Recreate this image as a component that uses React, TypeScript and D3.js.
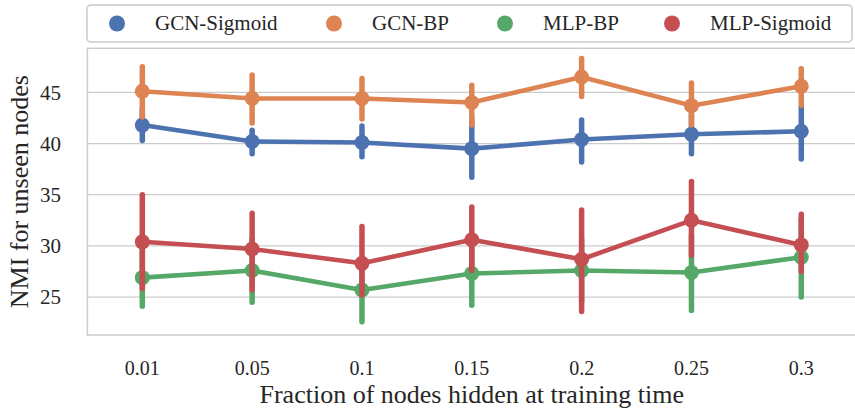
import React from "react";
import * as d3 from "d3";

const categories = ["0.01", "0.05", "0.1", "0.15", "0.2", "0.25", "0.3"];
const yTicks = [25, 30, 35, 40, 45];

const seriesNames = ["GCN-Sigmoid", "GCN-BP", "MLP-BP", "MLP-Sigmoid"];
const seriesColors = ["#4C72B0", "#DD8452", "#55A868", "#C44E52"];

const gcnSigmoidMean = [41.8, 40.2, 40.1, 39.5, 40.4, 40.9, 41.2];
const gcnSigmoidLo = [40.3, 39.0, 38.7, 36.7, 38.2, 39.0, 38.5];
const gcnSigmoidHi = [43.3, 41.3, 41.7, 42.3, 42.3, 42.8, 43.6];

const gcnBpMean = [45.1, 44.4, 44.4, 44.0, 46.5, 43.7, 45.6];
const gcnBpLo = [42.6, 42.0, 42.4, 41.8, 44.6, 41.8, 43.75];
const gcnBpHi = [47.5, 46.7, 46.35, 45.7, 48.3, 45.9, 47.3];

const mlpBpMean = [26.9, 27.6, 25.7, 27.3, 27.6, 27.4, 28.9];
const mlpBpLo = [24.1, 24.5, 22.6, 24.2, 24.6, 23.7, 25.0];
const mlpBpHi = [29.6, 30.7, 28.8, 30.3, 30.6, 31.0, 32.6];

const mlpSigmoidMean = [30.4, 29.7, 28.3, 30.6, 28.7, 32.5, 30.1];
const mlpSigmoidLo = [25.85, 25.7, 25.2, 27.6, 23.6, 29.1, 27.5];
const mlpSigmoidHi = [35.0, 33.2, 31.9, 33.8, 33.5, 36.3, 33.1];

const seriesMeans = [gcnSigmoidMean, gcnBpMean, mlpBpMean, mlpSigmoidMean];
const seriesLos = [gcnSigmoidLo, gcnBpLo, mlpBpLo, mlpSigmoidLo];
const seriesHis = [gcnSigmoidHi, gcnBpHi, mlpBpHi, mlpSigmoidHi];

const W = 855;
const H = 410;
const left = 87.4;
const right = 856.2;
const top = 48.3;
const bottom = 335;

const serif = "'Liberation Serif', 'Times New Roman', serif";
const textColor = "#262626";

export default function App() {
  const x = d3.scalePoint<string>().domain(categories).range([left, right]).padding(0.5);
  const y = d3.scaleLinear().domain([21.3, 49.3]).range([bottom, top]);
  const line = d3
    .line<number>()
    .x((_, i) => x(categories[i]) as number)
    .y((d) => y(d));

  // legend layout
  const legendMarkers = [117, 334, 505, 672];

  return (
    <svg
      width={W}
      height={H}
      style={{ position: "absolute", left: 0, top: 0, background: "#fff" }}
    >
      {/* grid */}
      {yTicks.map((t) => (
        <line
          key={t}
          x1={left}
          x2={right}
          y1={y(t)}
          y2={y(t)}
          stroke="#cccccc"
          strokeWidth={1.3}
        />
      ))}
      {/* frame */}
      <rect
        x={left}
        y={top}
        width={right - left}
        height={bottom - top}
        fill="none"
        stroke="#cccccc"
        strokeWidth={1.5}
      />
      {/* series */}
      {seriesNames.map((name, s) => {
        const c = seriesColors[s];
        const m = seriesMeans[s];
        return (
          <g key={name}>
            {m.map((v, i) => (
              <line
                key={"e" + i}
                x1={x(categories[i])}
                x2={x(categories[i])}
                y1={y(seriesLos[s][i])}
                y2={y(seriesHis[s][i])}
                stroke={c}
                strokeWidth={5.5}
                strokeLinecap="round"
              />
            ))}
            <path d={line(m) || ""} fill="none" stroke={c} strokeWidth={4.6} strokeLinejoin="round" />
            {m.map((v, i) => (
              <circle key={"p" + i} cx={x(categories[i])} cy={y(v)} r={7.5} fill={c} />
            ))}
          </g>
        );
      })}
      {/* y ticks */}
      {yTicks.map((t) => (
        <text
          key={t}
          x={61}
          y={y(t)}
          dy="0.35em"
          textAnchor="end"
          fontFamily={serif}
          fontSize={21}
          fill={textColor}
        >
          {t}
        </text>
      ))}
      {/* x ticks */}
      {categories.map((c) => (
        <text
          key={c}
          x={x(c)}
          y={375}
          textAnchor="middle"
          fontFamily={serif}
          fontSize={20}
          fill={textColor}
        >
          {c}
        </text>
      ))}
      {/* axis labels */}
      <text
        x={(left + right) / 2}
        y={403}
        textAnchor="middle"
        fontFamily={serif}
        fontSize={26}
        fill={textColor}
      >
        Fraction of nodes hidden at training time
      </text>
      <text
        transform={`translate(28,${(top + bottom) / 2}) rotate(-90)`}
        textAnchor="middle"
        fontFamily={serif}
        fontSize={26}
        fill={textColor}
      >
        NMI for unseen nodes
      </text>
      {/* legend */}
      <rect
        x={87}
        y={5}
        width={765}
        height={37}
        rx={4}
        fill="#fff"
        stroke="#d6d6d6"
        strokeWidth={2}
      />
      {seriesNames.map((name, s) => (
        <g key={name}>
          <circle cx={legendMarkers[s]} cy={23.5} r={8} fill={seriesColors[s]} />
          <text
            x={legendMarkers[s] + 38}
            y={30}
            fontFamily={serif}
            fontSize={21}
            fill={textColor}
          >
            {name}
          </text>
        </g>
      ))}
    </svg>
  );
}
